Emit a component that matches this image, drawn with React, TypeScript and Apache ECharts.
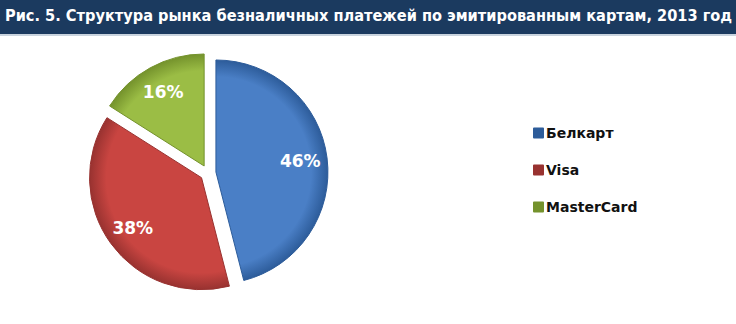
import React, { useEffect, useRef } from "react";
import * as echarts from "echarts";

const titleText = "Рис. 5. Структура рынка безналичных платежей по эмитированным картам, 2013 год";
const categories = ["Белкарт", "Visa", "MasterCard"];
const shares = [46, 38, 16];
const colors = ["#4a7fc6", "#c94541", "#9bbd45"];
const darkColors = ["#2d5c9a", "#983230", "#74922c"];

export default function App() {
  const ref = useRef<HTMLDivElement>(null);
  useEffect(() => {
    document.body.style.margin = "0";
    const chart = echarts.init(ref.current!, null, { renderer: "svg" });
    const cx = 208;
    const cy = 173;
    const R = 112;
    const data = categories.map((name, i) => ({
      name,
      value: shares[i],
      selected: true,
      itemStyle: {
        color: new echarts.graphic.RadialGradient(cx, cy, R, [
          { offset: 0, color: colors[i] },
          { offset: 0.85, color: colors[i] },
          { offset: 1, color: darkColors[i] },
        ], true),
        borderColor: darkColors[i],
        borderWidth: 1,
      },
    }));
    const labelData = categories.map((name, i) => ({
      name,
      value: shares[i],
      selected: true,
    }));
    chart.setOption({
      animation: false,
      backgroundColor: "#ffffff",
      color: colors,
      graphic: [
        { type: "rect", shape: { x: 0, y: 0, width: 736, height: 34 }, style: { fill: "#1b3a5f" } },
        { type: "rect", shape: { x: 0, y: 34, width: 736, height: 2 }, style: { fill: "#c9d3de" } },
        {
          type: "text",
          left: 5,
          top: 7,
          style: {
            text: titleText,
            fill: "#ffffff",
            font: "bold 16.2px 'DejaVu Sans Condensed', 'DejaVu Sans', sans-serif",
          },
        },
      ],
      legend: {
        orient: "vertical",
        left: 528,
        top: 121,
        itemWidth: 9,
        itemHeight: 9,
        itemGap: 23,
        icon: "rect",
        data: categories,
        textStyle: {
          fontFamily: "'DejaVu Sans', sans-serif",
          fontWeight: "bold",
          fontSize: 14,
          color: "#111111",
          padding: [0, 0, 0, -2],
        },
      },
      series: [
        {
          type: "pie",
          center: [cx, cy],
          radius: [0, R],
          startAngle: 90,
          clockwise: true,
          selectedMode: "multiple",
          selectedOffset: 8,
          label: { show: false },
          labelLine: { show: false },
          emphasis: { disabled: true },
          data,
        },
        {
          type: "pie",
          center: [cx, cy],
          radius: [52, R],
          startAngle: 90,
          clockwise: true,
          selectedMode: "multiple",
          selectedOffset: 8,
          silent: true,
          itemStyle: { color: "rgba(0,0,0,0)" },
          emphasis: { disabled: true },
          labelLine: { show: false },
          label: {
            show: true,
            position: "inside",
            formatter: "{c}%",
            color: "#ffffff",
            fontSize: 17,
            fontWeight: "bold",
            fontFamily: "'DejaVu Sans', sans-serif",
            textBorderWidth: 0,
          },
          data: labelData,
        },
      ],
    });
    return () => chart.dispose();
  }, []);
  return <div ref={ref} style={{ width: 736, height: 324 }} />;
}
